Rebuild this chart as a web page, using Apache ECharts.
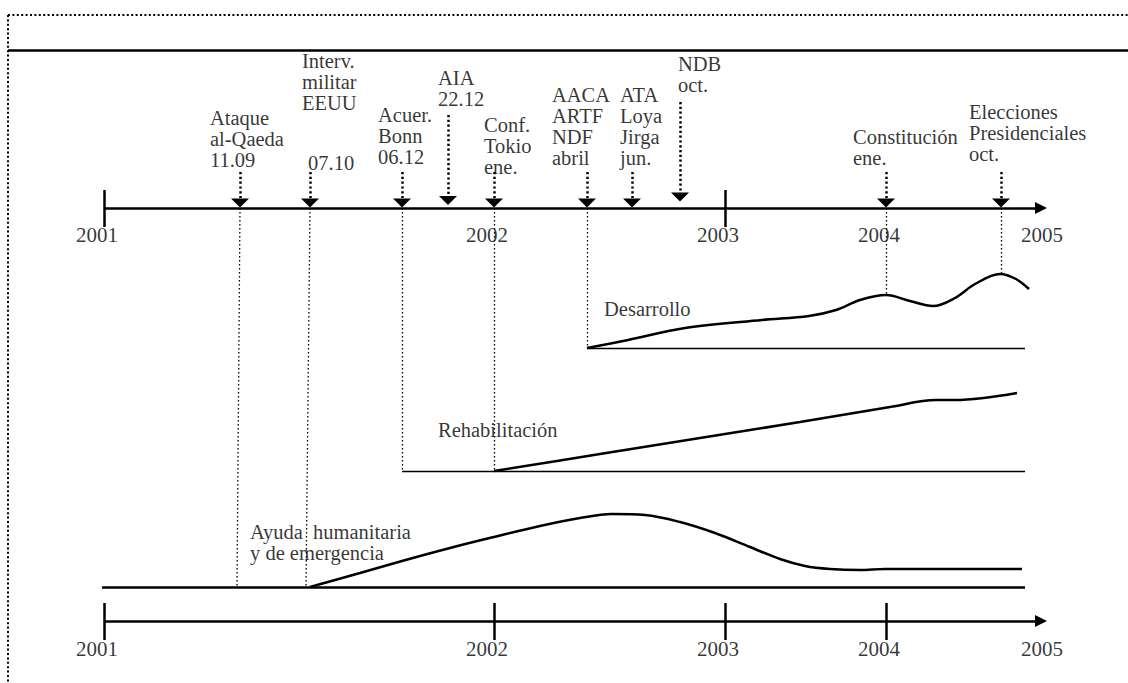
<!DOCTYPE html>
<html><head><meta charset="utf-8">
<script src="https://cdn.jsdelivr.net/npm/echarts@6/dist/echarts.min.js"></script>
<style>html,body{margin:0;padding:0;background:#fff}#c{width:1128px;height:683px}</style>
</head><body><div id="c"></div>
<script>
// ================= DATA =================
// Timeline positions (horizontal timeline units, uneven spacing as in the source diagram)
const yearLabels = ['2001', '2002', '2003', '2004', '2005'];
const yearPos = [104, 494, 725, 886, 1047];           // 2005 = arrow tip
const topTickYears = ['2001', '2003'];                  // ticks visible on upper timeline
const bottomTickYears = ['2001', '2002', '2003', '2004'];

// Events on the upper timeline
const eventText = [
  'Ataque\nal-Qaeda\n11.09',
  'Interv.\nmilitar\nEEUU',
  'Acuer.\nBonn\n06.12',
  'AIA\n22.12',
  'Conf.\nTokio\nene.',
  'AACA\nARTF\nNDF\nabril',
  'ATA\nLoya\nJirga\njun.',
  'NDB\noct.',
  'Constitución\nene.',
  'Elecciones\nPresidenciales\noct.'
];
const eventPos = [240, 310, 402, 448, 494, 587, 632, 680, 886, 1001];
const extraText = ['07.10'];

// Phase curves: [timeline position, level]  (level measured downward)
const phaseNames = ['Ayuda  humanitaria\ny de emergencia', 'Rehabilitación', 'Desarrollo'];
const ayuda = [[310,587],[360,573],[402,561],[450,548],[494,537],[540,526],[580,518],[612,514],[645,515],[680,522],[715,533],[750,547],[780,559],[805,566],[830,569],[860,570],[885,569],[950,569],[1022,569]];
const rehab = [[494,471],[600,454],[700,438],[800,422],[890,407],[936,400],[955,400],[1017,393]];
const desarrollo = [[587,348],[628,340],[685,328],[762,320],[809,316],[836,310],[860,300],[886,295],[910,301],[933,306],[955,298],[975,284],[1000,274],[1016,279],[1029,289]];

// ================= LAYOUT =================
const W = 1128, H = 683;
const FONT = '"Liberation Serif", "Times New Roman", serif';
const FS = 20.5, LH = 21, FSY = 21;
const yTopAxis = 208, yBotAxis = 621;
const axisStart = 104, axisEnd = 1047;
const baseAyuda = 587, baseRehab = 471, baseDes = 348;

// label anchors (top-left of each text block)
const eventLabelAt = [[210,107],[302,50],[378,104],[438,67],[484,114],[552,84],[620,84],[678,53],[853,126],[969,101]];
const extraLabelAt = [[308,152]];
const phaseLabelAt = [[250,521],[438,419],[604,298]];
// triangle centres (y) and dotted connector above (from, to)
const triY = [203,203,203,200.5,203,203,203,197,203,203];
const connFrom = [172,172,172,115,172,172,172,102,172,172];
const connTo   = [198,198,198,196,198,198,198,192,198,198];
// dotted drop lines below axis: [event index, end level, bottom x shift]
const drops = [[0, baseAyuda, -3],[1, baseAyuda, -4],[2, baseRehab, 0],[4, baseRehab, 0],[5, baseDes, 0],[8, 295, 0],[9, 273, 0]];

const solidThick = {color:'#000', width:2.5, type:'solid', opacity:1};
const solidThin = {color:'#000', width:1.3, type:'solid', opacity:1};
const dotAbove = {color:'#000', width:2.5, type:[2.2,2.6], opacity:1};
const dotBelow = {color:'#000', width:1.3, type:[1.6,2.4], opacity:1};
const dotBorder = {color:'#000', width:2, type:[2,2.4], opacity:1};

const segs = [];
// border + header rule
segs.push({coords:[[8,15],[W,15]], lineStyle:dotBorder});
segs.push({coords:[[8,15],[8,H]], lineStyle:dotBorder});
segs.push({coords:[[8,50],[W,50]], lineStyle:solidThick});
// ticks
topTickYears.forEach(y => { const x = yearPos[yearLabels.indexOf(y)]; segs.push({coords:[[x,190],[x,227]], lineStyle:solidThick}); });
bottomTickYears.forEach(y => { const x = yearPos[yearLabels.indexOf(y)]; segs.push({coords:[[x,603],[x,640]], lineStyle:solidThick}); });
// baselines
segs.push({coords:[[102,baseAyuda],[1025,baseAyuda]], lineStyle:solidThick});
segs.push({coords:[[eventPos[2],baseRehab],[1025,baseRehab]], lineStyle:solidThin});
segs.push({coords:[[eventPos[5],baseDes],[1025,baseDes]], lineStyle:solidThin});
// connectors above
eventPos.forEach((x,i) => segs.push({coords:[[x,connFrom[i]],[x,connTo[i]]], lineStyle:dotAbove}));
// drops
drops.forEach(d => { const x = eventPos[d[0]]; segs.push({coords:[[x,yTopAxis],[x+d[2],d[1]]], lineStyle:dotBelow}); });

const textItems = [];
eventText.forEach((t,i) => textItems.push({value:eventLabelAt[i], name:t}));
extraText.forEach((t,i) => textItems.push({value:extraLabelAt[i], name:t}));
phaseNames.forEach((t,i) => textItems.push({value:phaseLabelAt[i], name:t}));

const yearItems = [];
yearLabels.forEach((t,i) => {
  const dx = i === 4 ? -5 : -7;
  yearItems.push({value:[yearPos[i]+dx, 235], name:t});
  yearItems.push({value:[yearPos[i]+dx, 649], name:t});
});

const curve = (name, data) => ({
  type:'line', name, data, smooth:0.35, showSymbol:false, symbol:'none', silent:true,
  lineStyle:{color:'#000', width:2.5, opacity:1}, z:5
});

const chart = echarts.init(document.getElementById('c'), null, {renderer:'svg'});
chart.setOption({
  backgroundColor:'#fff',
  animation:false,
  grid:{left:0, right:0, top:0, bottom:0, containLabel:false},
  xAxis:{type:'value', min:0, max:W, show:false},
  yAxis:{type:'value', min:0, max:H, inverse:true, show:false},
  series:[
    {type:'lines', coordinateSystem:'cartesian2d', silent:true, z:3, data:segs, symbol:'none',
      lineStyle:{opacity:1}},
    {type:'lines', coordinateSystem:'cartesian2d', silent:true, z:4,
      symbol:['none','triangle'], symbolSize:[13,12],
      lineStyle:{color:'#000', width:2.5, opacity:1}, itemStyle:{color:'#000'},
      data:[{coords:[[axisStart,yTopAxis],[axisEnd-6,yTopAxis]]},{coords:[[axisStart,yBotAxis],[axisEnd-6,yBotAxis]]}]},
    curve('ayuda', ayuda),
    curve('rehab', rehab),
    curve('desarrollo', desarrollo),
    {type:'scatter', silent:true, z:6, symbol:'triangle', symbolRotate:180, symbolSize:[18,9],
      itemStyle:{color:'#000', opacity:1}, data:eventPos.map((x,i)=>[x,triY[i]])},
    {type:'scatter', silent:true, z:7, symbolSize:0, data:textItems,
      label:{show:true, formatter:'{b}', position:[0,0], align:'left', verticalAlign:'top',
        fontFamily:FONT, fontSize:FS, lineHeight:LH, color:'#000'}},
    {type:'scatter', silent:true, z:7, symbolSize:0, data:yearItems,
      label:{show:true, formatter:'{b}', position:[0,0], align:'center', verticalAlign:'middle',
        fontFamily:FONT, fontSize:FSY, lineHeight:LH, color:'#000'}}
  ]
});
</script></body></html>
